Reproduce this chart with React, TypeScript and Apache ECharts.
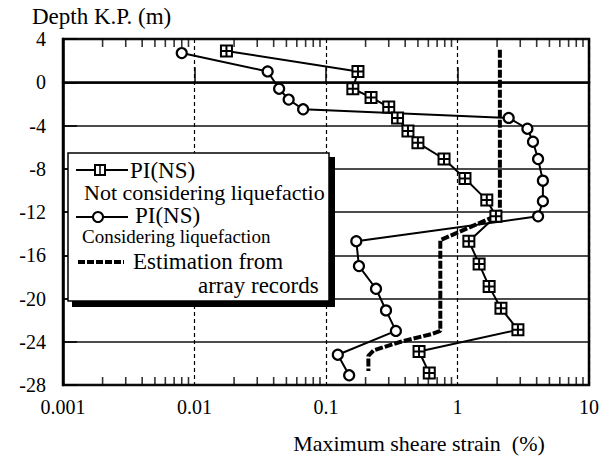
import React, { useEffect, useRef } from "react";
import * as echarts from "echarts";

// ---- Data ----
const depthSquares = [2.9, 1.0, -0.6, -1.4, -2.3, -3.3, -4.5, -5.6, -7.1, -8.9, -10.9, -12.4, -14.7, -16.8, -18.9, -20.9, -22.9, -24.9, -26.9];
const strainSquares = [0.0175, 0.175, 0.16, 0.22, 0.3, 0.35, 0.42, 0.5, 0.79, 1.14, 1.67, 1.96, 1.22, 1.46, 1.74, 2.14, 2.88, 0.51, 0.61];

const depthCircles = [2.7, 1.0, -0.6, -1.6, -2.5, -3.3, -4.3, -5.5, -7.1, -9.1, -11.0, -12.4, -14.7, -17.0, -19.1, -21.1, -23.0, -25.2, -27.1];
const strainCircles = [0.008, 0.036, 0.044, 0.052, 0.067, 2.45, 3.4, 3.75, 4.1, 4.46, 4.46, 4.1, 0.17, 0.178, 0.24, 0.286, 0.34, 0.123, 0.15];

const depthEst = [3.0, -12.2, -14.6, -23.0, -23.3, -24.0, -24.8, -25.3, -26.7];
const strainEst = [2.1, 2.1, 0.74, 0.74, 0.63, 0.37, 0.23, 0.21, 0.21];

const xTickLabels = ["0.001", "0.01", "0.1", "1", "10"];
const yTickLabels = ["-28", "-24", "-20", "-16", "-12", "-8", "-4", "0", "4"];
const decades = [0.001, 0.01, 0.1, 1];
const minorMultipliers = [2, 3, 4, 5, 6, 7, 8, 9];
const yBottom = -28;
const yTop = 4;

const FONT = "Liberation Serif, serif";

function pairs(xs: number[], ys: number[]) {
  return xs.map((x, i) => [x, ys[i]]);
}

export default function App() {
  const ref = useRef<HTMLDivElement>(null);
  useEffect(() => {
    if (!ref.current) return;
    const chart = echarts.init(ref.current, null, { renderer: "svg" });
    const minorX: number[] = [];
    decades.forEach((d) => minorMultipliers.forEach((m) => minorX.push(d * m)));

    const squareSymbol = "path://M0 0H10V10H0Z M5 0V10 M0 5H10";

    const option: any = {
      animation: false,
      backgroundColor: "#fff",
      textStyle: { fontFamily: FONT, color: "#000" },
      grid: { left: 63, right: 23, top: 39, bottom: 71, show: true, borderColor: "#000", borderWidth: 2.5 },
      xAxis: {
        type: "log",
        logBase: 10,
        min: 0.001,
        max: 10,
        axisLine: { show: true, lineStyle: { color: "#000", width: 2.5 } },
        axisTick: { show: true, inside: true, length: 15, lineStyle: { color: "#000", width: 1.5 } },
        axisLabel: {
          color: "#000",
          fontSize: 20,
          fontFamily: FONT,
          margin: 12,
          formatter: (_v: number, i: number) => xTickLabels[i] ?? "",
        },
        splitLine: { show: true, lineStyle: { color: "#000", width: 1.2, type: [4, 3] } },
      },
      yAxis: {
        type: "value",
        min: yBottom,
        max: yTop,
        interval: 4,
        axisLine: { show: true, lineStyle: { color: "#000", width: 2.5 } },
        axisTick: { show: true, inside: true, length: 14, lineStyle: { color: "#000", width: 1.5 } },
        axisLabel: {
          color: "#000",
          fontSize: 20,
          fontFamily: FONT,
          margin: 17,
          formatter: (_v: number, i: number) => yTickLabels[i] ?? "",
        },
        splitLine: { show: true, lineStyle: { color: "#111", width: 1.5 } },
      },
      series: [
        {
          name: "Estimation from array records",
          type: "line",
          data: pairs(strainEst, depthEst),
          showSymbol: false,
          symbol: "none",
          lineStyle: { color: "#000", width: 4, type: [8, 2] },
        },
        {
          name: "PI(NS) Not considering liquefaction",
          type: "line",
          data: pairs(strainSquares, depthSquares),
          symbol: squareSymbol,
          symbolSize: 11,
          symbolKeepAspect: true,
          itemStyle: { color: "#fff", borderColor: "#000", borderWidth: 2 },
          lineStyle: { color: "#000", width: 2 },
        },
        {
          name: "PI(NS) Considering liquefaction",
          type: "line",
          data: pairs(strainCircles, depthCircles),
          symbol: "circle",
          symbolSize: 10,
          itemStyle: { color: "#fff", borderColor: "#000", borderWidth: 2.2 },
          lineStyle: { color: "#000", width: 2 },
        },
        {
          type: "scatter",
          clip: false,
          data: minorX.map((x) => [x, yBottom]),
          symbol: "rect",
          symbolSize: [1.6, 8],
          symbolOffset: [0, -4],
          itemStyle: { color: "#000" },
        },
        {
          type: "scatter",
          clip: false,
          data: minorX.map((x) => [x, yTop]),
          symbol: "rect",
          symbolSize: [1.6, 8],
          symbolOffset: [0, 4],
          itemStyle: { color: "#000" },
        },
      ],
      graphic: [
        { type: "text", z: 100, style: { text: "Depth K.P. (m)", x: 32, y: 16, verticalAlign: "middle", fontSize: 23, fontFamily: FONT, fill: "#000" } },
        { type: "text", z: 100, style: { text: "Maximum sheare strain  (%)", x: 419, y: 443, align: "center", verticalAlign: "middle", fontSize: 22, fontFamily: FONT, fill: "#000" } },
        // legend box
        { type: "rect", z: 100, shape: { x: 72, y: 157, width: 263, height: 150 }, style: { fill: "#000" } },
        { type: "rect", z: 101, shape: { x: 68, y: 153, width: 261, height: 148 }, style: { fill: "#fff", stroke: "#000", lineWidth: 1.5 } },
        // row 1
        { type: "line", z: 102, shape: { x1: 76, y1: 170, x2: 128, y2: 170 }, style: { stroke: "#000", lineWidth: 2 } },
        { type: "rect", z: 103, shape: { x: 95, y: 165, width: 10, height: 10 }, style: { fill: "#fff", stroke: "#000", lineWidth: 2 } },
        { type: "line", z: 104, shape: { x1: 100, y1: 165, x2: 100, y2: 175 }, style: { stroke: "#000", lineWidth: 1.5 } },
        { type: "text", z: 102, style: { text: "PI(NS)", x: 130, y: 170, verticalAlign: "middle", fontSize: 23, fontFamily: FONT, fill: "#000" } },
        { type: "text", z: 102, style: { text: "Not considering liquefactio", x: 84, y: 192, verticalAlign: "middle", fontSize: 22, fontFamily: FONT, fill: "#000" } },
        // row 2
        { type: "line", z: 102, shape: { x1: 76, y1: 217, x2: 128, y2: 217 }, style: { stroke: "#000", lineWidth: 2 } },
        { type: "circle", z: 103, shape: { cx: 98, cy: 217, r: 5 }, style: { fill: "#fff", stroke: "#000", lineWidth: 2 } },
        { type: "text", z: 102, style: { text: "PI(NS)", x: 135, y: 215, verticalAlign: "middle", fontSize: 23, fontFamily: FONT, fill: "#000" } },
        { type: "text", z: 102, style: { text: "Considering liquefaction", x: 82, y: 236, verticalAlign: "middle", fontSize: 19, fontFamily: FONT, fill: "#000" } },
        // row 3
        { type: "line", z: 102, shape: { x1: 78, y1: 262, x2: 124, y2: 262 }, style: { stroke: "#000", lineWidth: 4, lineDash: [7, 2] } },
        { type: "text", z: 102, style: { text: "Estimation from", x: 133, y: 261, verticalAlign: "middle", fontSize: 23, fontFamily: FONT, fill: "#000" } },
        { type: "text", z: 102, style: { text: "array records", x: 198, y: 285, verticalAlign: "middle", fontSize: 23, fontFamily: FONT, fill: "#000" } },
      ],
    };
    chart.setOption(option);
    return () => chart.dispose();
  }, []);
  return <div ref={ref} style={{ position: "fixed", left: 0, top: 0, width: 612, height: 456 }} />;
}
